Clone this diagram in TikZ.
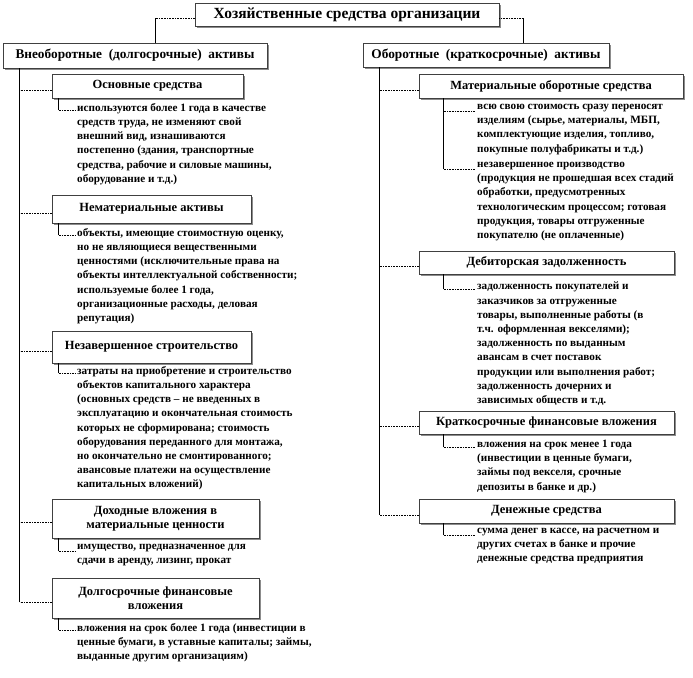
\documentclass[tikz,border=0pt]{standalone}
\usepackage{fontspec}
\setmainfont{Liberation Serif}
\usetikzlibrary{positioning, calc, shadows}

\begin{document}
\begin{tikzpicture}[
  x=1pt, y=-1pt,
  every node/.style={font=\bfseries},
  box/.style={draw=black!75, fill=white, line width=0.6pt, inner sep=0pt, align=center,
    drop shadow={shadow xshift=2pt, shadow yshift=-2pt, fill=black!45, opacity=1},
    font=\fontsize{12.5}{14}\selectfont\bfseries},
  head/.style={box, font=\fontsize{13.3}{15}\selectfont\bfseries},
  desc/.style={anchor=north west, inner sep=0pt, align=left, font=\fontsize{11.2}{14.2}\selectfont\bfseries},
  trunk/.style={line width=0.6pt},
  twig/.style={line width=0.6pt, densely dotted}
]
  \useasboundingbox (0,0) rectangle (693,677);

  % Заголовки
  \node[head, minimum width=304, minimum height=23, font=\fontsize{15.5}{17}\selectfont\bfseries] (org) at (347,14.5) {Хозяйственные средства организации};
  \node[head, minimum width=264, minimum height=25] (vneob) at (135,55.5) {Внеоборотные\ \ (долгосрочные)\ \ активы};
  \node[head, minimum width=246, minimum height=24] (oborot) at (486,55) {Оборотные\ \ (краткосрочные)\ \ активы};

  % Внеоборотные активы
  \node[box, minimum width=191, minimum height=24] (osn) at (147.5,86) {Основные средства};
  \node[box, minimum width=199, minimum height=28] (nemat) at (151.5,209) {Нематериальные активы};
  \node[box, minimum width=199, minimum height=32] (nezav) at (151.5,347) {Незавершенное строительство};
  \node[box, minimum width=207, minimum height=39] (dohod) at (155.5,518.5) {Доходные вложения в\\материальные ценности};
  \node[box, minimum width=207, minimum height=40] (dolg) at (155.5,598) {Долгосрочные финансовые\\вложения};

  \node[desc] (osnd) at (77,103) {используются более 1 года в качестве\\средств труда, не изменяют свой\\внешний вид, изнашиваются\\постепенно\ (здания, транспортные\\средства, рабочие и силовые машины,\\оборудование и т.д.)};
  \node[desc] (nematd) at (77,228) {объекты, имеющие стоимостную оценку,\\но не являющиеся вещественными\\ценностями (исключительные права на\\объекты интеллектуальной собственности;\\используемые более 1 года,\\организационные расходы, деловая\\репутация)};
  \node[desc] (nezavd) at (77,366) {затраты на приобретение и строительство\\объектов капитального характера\\(основных средств -- не введенных в\\эксплуатацию и окончательная стоимость\\которых не сформирована; стоимость\\оборудования переданного для монтажа,\\но окончательно не смонтированного;\\авансовые платежи на осуществление\\капитальных вложений)};
  \node[desc] (dohodd) at (77,544) {имущество, предназначенное для\\сдачи в аренду, лизинг, прокат};
  \node[desc] (dolgd) at (77,623) {вложения на срок более 1 года (инвестиции в\\ценные бумаги, в уставные капиталы; займы,\\выданные другим организациям)};

  % Оборотные активы
  \node[box, minimum width=264, minimum height=24] (mater) at (551,86) {Материальные оборотные средства};
  \node[box, minimum width=255, minimum height=23] (debit) at (546.5,262.5) {Дебиторская задолженность};
  \node[box, minimum width=255, minimum height=23] (kratk) at (546.5,422.5) {Краткосрочные финансовые вложения};
  \node[box, minimum width=255, minimum height=24] (deneg) at (546.5,511) {Денежные средства};

  \node[desc] (materd) at (477,104) {всю свою стоимость сразу переносят\\изделиям (сырье, материалы, МБП,\\комплектующие изделия, топливо,\\покупные полуфабрикаты и т.д.)};
  \node[desc] (nezpr) at (477,162) {незавершенное производство\\(продукция не прошедшая всех стадий\\обработки, предусмотренных\\технологическим процессом; готовая\\продукция, товары отгруженные\\покупателю (не оплаченные)};
  \node[desc] (debitd) at (477,282) {задолженность покупателей и\\заказчиков за отгруженные\\товары, выполненные работы (в\\т.ч. оформленная векселями);\\задолженность по выданным\\авансам в счет поставок\\продукции или выполнения работ;\\задолженность дочерних и\\зависимых обществ и т.д.};
  \node[desc] (kratkd) at (477,440) {вложения на срок менее 1 года\\(инвестиции в ценные бумаги,\\займы под векселя, срочные\\депозиты в банке и др.)};
  \node[desc] (denegd) at (477,528) {сумма денег в кассе, на расчетном и\\других счетах в банке и прочие\\денежные средства предприятия};

  % Связи
  \coordinate (tl) at ($(org.west)+(0,4)$);
  \coordinate (vl) at ($(vneob.north)+(20,0)$);
  \draw[twig] (tl) -- (tl -| vl);
  \draw[trunk] (tl -| vl) -- (vl);
  \coordinate (tr) at ($(org.east)+(0,4)$);
  \coordinate (vr) at ($(oborot.north)+(37,0)$);
  \draw[twig] (tr) -- (tr -| vr);
  \draw[trunk] (tr -| vr) -- (vr);

  \draw[trunk] ([xshift=17pt]vneob.south west) -- ($(dolg.west)+(-32,4)$);
  \foreach \b in {osn,nemat,nezav,dohod,dolg}
    \draw[twig] ($(\b.west)+(0,4)$) -- +(-32,0);
  \draw[trunk] ([xshift=17pt]oborot.south west) -- ($(deneg.west)+(-39,4)$);
  \foreach \b in {mater,debit,kratk,deneg}
    \draw[twig] ($(\b.west)+(0,4)$) -- +(-39,0);

  \foreach \b/\d in {osn/osnd,nemat/nematd,nezav/nezavd,dohod/dohodd,dolg/dolgd}{
    \coordinate (k) at ($(\d.north west)+(-2,7)$);
    \coordinate (s) at ($(\b.south west)+(7,0)$);
    \draw[trunk] (s) -- (s |- k);
    \draw[twig] (s |- k) -- (k);
  }
  \foreach \b/\d in {mater/nezpr,mater/materd,debit/debitd,kratk/kratkd,deneg/denegd}{
    \coordinate (k) at ($(\d.north west)+(-2,7)$);
    \coordinate (s) at ($(\b.south west)+(25,0)$);
    \draw[trunk] (s) -- (s |- k);
    \draw[twig] (s |- k) -- (k);
  }
\end{tikzpicture}
\end{document}
